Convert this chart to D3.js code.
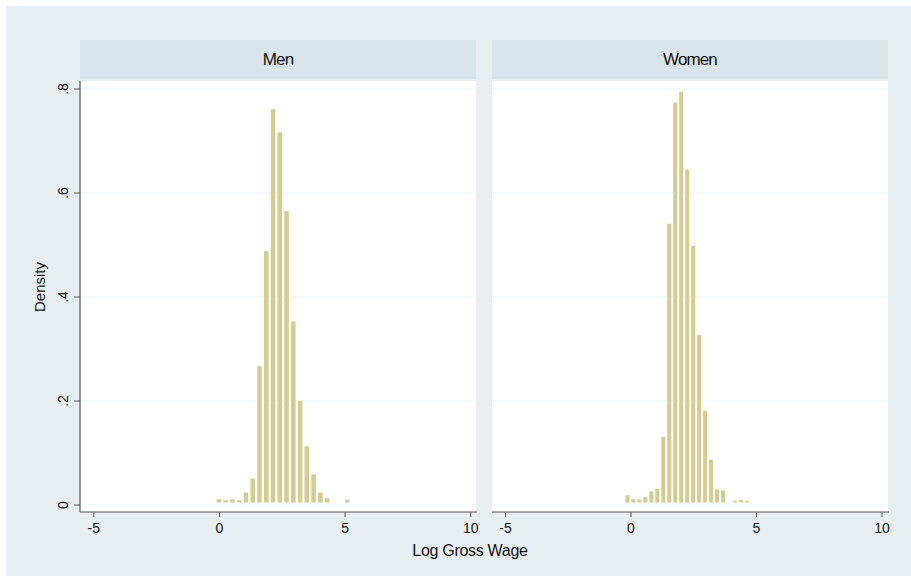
<!DOCTYPE html>
<html>
<head>
<meta charset="utf-8">
<script src="https://cdn.jsdelivr.net/npm/d3@7"></script>
<style>
  body { margin: 0; background: #fff; }
  svg { display: block; font-family: "Liberation Sans", Arial, sans-serif; }
</style>
</head>
<body>
<script>
// panels and histogram densities
var panels = ["Men", "Women"];
var menBinStart = -0.134, menBinWidth = 0.269;
var menDensity = [0.011, 0.009, 0.011, 0.009, 0.024, 0.051, 0.267, 0.488, 0.761, 0.717,
                  0.565, 0.353, 0.200, 0.113, 0.059, 0.024, 0.013, 0, 0, 0.010];
var womenBinStart = -0.24, womenBinWidth = 0.238;
var womenDensity = [0.019, 0.011, 0.011, 0.015, 0.026, 0.031, 0.131, 0.541, 0.774, 0.795,
                    0.645, 0.498, 0.327, 0.181, 0.087, 0.030, 0.028, 0, 0.008, 0.010, 0.008];
var xTicks = [-5, 0, 5, 10];
var yTicks = [0, 0.2, 0.4, 0.6, 0.8];
var yTickLabels = ["0", ".2", ".4", ".6", ".8"];

var width = 911, height = 576;

var svg = d3.select("body").append("svg")
    .attr("width", width)
    .attr("height", height);

// graph region background
svg.append("rect")
    .attr("x", 6).attr("y", 6)
    .attr("width", width - 6).attr("height", height - 6)
    .attr("fill", "#e8eff2");

var y = d3.scaleLinear().domain([0, 0.8]).range([505, 89]);

var panelBox = [
  { name: panels[0], left: 80, right: 476, x: d3.scaleLinear().domain([-5, 10]).range([93.3, 470.2]),
    start: menBinStart, bw: menBinWidth, dens: menDensity, yaxis: true },
  { name: panels[1], left: 492, right: 888, x: d3.scaleLinear().domain([-5, 10]).range([505, 881.5]),
    start: womenBinStart, bw: womenBinWidth, dens: womenDensity, yaxis: false }
];

var plotTop = 81, plotBottom = 512;

panelBox.forEach(function(p) {
  // strip header
  svg.append("rect")
      .attr("x", p.left).attr("y", 40)
      .attr("width", p.right - p.left).attr("height", 39)
      .attr("fill", "#d9e5eb");
  svg.append("text")
      .attr("x", (p.left + p.right) / 2).attr("y", 65)
      .attr("text-anchor", "middle")
      .style("font-size", "17px")
      .style("letter-spacing", "-0.9px")
      .attr("fill", "#111")
      .text(p.name);

  // plot area
  svg.append("rect")
      .attr("x", p.left).attr("y", plotTop)
      .attr("width", p.right - p.left).attr("height", plotBottom - plotTop)
      .attr("fill", "#fff");

  // gridlines
  svg.append("g").selectAll("line")
      .data(yTicks)
      .enter().append("line")
      .attr("x1", p.left).attr("x2", p.right - 1)
      .attr("y1", function(d) { return y(d); })
      .attr("y2", function(d) { return y(d); })
      .attr("stroke", "#eaf1f3")
      .attr("stroke-width", 1.2);

  // bars
  var bars = p.dens.map(function(d, i) {
    return { x0: p.start + i * p.bw, x1: p.start + (i + 1) * p.bw, d: d };
  }).filter(function(b) { return b.d > 0; });

  svg.append("g").selectAll("rect")
      .data(bars)
      .enter().append("rect")
      .attr("x", function(b) {
        var w = p.x(b.x1) - p.x(b.x0);
        return p.x(b.x0) + w * 0.16;
      })
      .attr("width", function(b) { return (p.x(b.x1) - p.x(b.x0)) * 0.68; })
      .attr("y", function(b) { return y(b.d); })
      .attr("height", function(b) { return Math.max(0, y(0) - y(b.d) - 2.5); })
      .attr("fill", "#d5cc92");

  // x axis
  var xAxis = d3.axisBottom(p.x).tickValues(xTicks).tickSize(5).tickPadding(6)
      .tickFormat(function(d) { return String(d); });
  var gx = svg.append("g")
      .attr("transform", "translate(0," + plotBottom + ")")
      .call(xAxis);
  gx.select(".domain").remove();
  gx.append("line")
      .attr("x1", p.left).attr("x2", p.right + 1)
      .attr("stroke", "#555").attr("stroke-width", 1.2);
  gx.selectAll(".tick line").attr("stroke", "#555");
  gx.selectAll(".tick text")
      .attr("fill", "#111")
      .style("font-size", "14px")
      .style("font-family", "Liberation Sans, Arial, sans-serif");

  // y axis, only on the first panel
  if (p.yaxis) {
    var gy = svg.append("g")
        .attr("transform", "translate(" + p.left + ",0)");
    gy.append("line")
        .attr("y1", plotTop).attr("y2", plotBottom)
        .attr("stroke", "#555").attr("stroke-width", 1.2);
    gy.selectAll(".yt")
        .data(yTicks)
        .enter().append("line")
        .attr("x1", -6).attr("x2", 0)
        .attr("y1", function(d) { return y(d); })
        .attr("y2", function(d) { return y(d); })
        .attr("stroke", "#555");
    gy.selectAll(".ylab")
        .data(yTicks)
        .enter().append("text")
        .attr("transform", function(d) { return "translate(-12," + y(d) + ") rotate(-90)"; })
        .attr("text-anchor", "middle")
        .style("font-size", "14px")
        .attr("fill", "#111")
        .text(function(d, i) { return yTickLabels[i]; });
  }
});

// axis titles
svg.append("text")
    .attr("transform", "translate(45,287) rotate(-90)")
    .attr("text-anchor", "middle")
    .style("font-size", "15px")
    .attr("fill", "#111")
    .text("Density");

svg.append("text")
    .attr("x", 470).attr("y", 556)
    .attr("text-anchor", "middle")
    .style("font-size", "16px")
    .style("letter-spacing", "-0.3px")
    .attr("fill", "#111")
    .text("Log Gross Wage");
</script>
</body>
</html>
